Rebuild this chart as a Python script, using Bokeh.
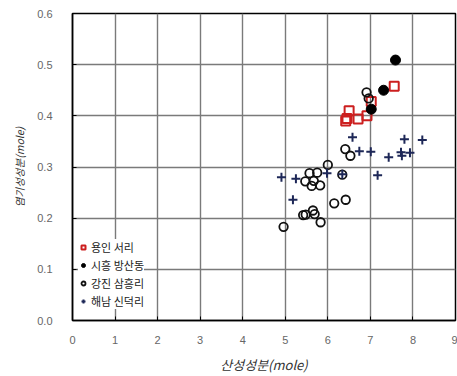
from bokeh.plotting import figure
from bokeh.models import Legend, LegendItem, PrintfTickFormatter, FixedTicker, Range1d
from bokeh.embed import file_html
from bokeh.resources import INLINE

# 용인 서리 (open red squares)
sq_x = [6.42, 6.45, 6.50, 6.71, 6.92, 7.02, 7.56]
sq_y = [0.390, 0.395, 0.410, 0.394, 0.400, 0.428, 0.458]
# 시흥 방산동 (filled black circles)
fc_x = [7.02, 7.31, 7.59]
fc_y = [0.413, 0.450, 0.509]
# 강진 삼흥리 (open circles)
oc_x = [6.91, 6.96, 6.41, 6.53, 6.00, 6.34, 5.57, 5.75, 5.47, 5.67, 5.62, 5.82,
        6.15, 6.42, 5.42, 5.48, 5.65, 5.69, 5.83, 4.96]
oc_y = [0.446, 0.434, 0.335, 0.322, 0.304, 0.285, 0.288, 0.289, 0.272, 0.273, 0.263, 0.264,
        0.229, 0.236, 0.206, 0.207, 0.215, 0.208, 0.192, 0.183]
# 해남 신덕리 (crosses)
cr_x = [6.58, 7.80, 8.22, 6.74, 7.01, 7.43, 7.72, 7.74, 7.93, 7.17, 4.91, 5.25, 5.98, 5.18, 6.34]
cr_y = [0.358, 0.354, 0.353, 0.331, 0.330, 0.319, 0.329, 0.322, 0.328, 0.284, 0.280, 0.277, 0.288, 0.236, 0.286]

names = ["용인 서리", "시흥 방산동", "강진 삼흥리", "해남 신덕리"]
x_ticks = [0, 1, 2, 3, 4, 5, 6, 7, 8, 9]
y_ticks = [0.0, 0.1, 0.2, 0.3, 0.4, 0.5, 0.6]

p = figure(width=457, height=376, output_backend="svg", toolbar_location=None,
           x_range=Range1d(0, 9), y_range=Range1d(0, 0.6),
           min_border_left=72, min_border_right=2, min_border_top=13, min_border_bottom=55)
p.outline_line_color = "black"
p.outline_line_width = 1.5

for ax in (p.xaxis[0], p.yaxis[0]):
    ax.major_tick_in = 4
    ax.major_tick_out = 0
    ax.minor_tick_line_color = None
    ax.axis_line_color = "black"
    ax.axis_line_width = 1.5
    ax.major_label_text_font = "Liberation Sans"
    ax.major_label_text_font_size = "11px"
    ax.major_label_text_color = "#666666"
    ax.axis_label_text_font = "Noto Sans CJK KR"
    ax.axis_label_text_font_style = "italic"
    ax.axis_label_text_color = "#333333"

p.xaxis.ticker = FixedTicker(ticks=x_ticks)
p.yaxis.ticker = FixedTicker(ticks=y_ticks)
p.yaxis.formatter = PrintfTickFormatter(format="%.1f")
p.xaxis.major_label_standoff = 15
p.yaxis.major_label_standoff = 20
p.xaxis.axis_label = "산성성분(mole)"
p.yaxis.axis_label = "염기성성분(mole)"
p.xaxis.axis_label_text_font_size = "13px"
p.yaxis.axis_label_text_font_size = "10.5px"
p.xaxis.axis_label_standoff = 8
p.yaxis.axis_label_standoff = 7

p.xgrid.grid_line_color = "#7a7a7a"
p.ygrid.grid_line_color = "#7a7a7a"
p.xgrid.grid_line_width = 1.4
p.ygrid.grid_line_width = 1.4

r1 = p.scatter(sq_x, sq_y, marker="square", size=9, fill_color="white", fill_alpha=0,
               line_color="#cc1f1f", line_width=2)
r2 = p.scatter(fc_x, fc_y, marker="circle", size=10, fill_color="black", line_color="black")
r3 = p.scatter(oc_x, oc_y, marker="circle", size=8.5, fill_color="white", fill_alpha=0,
               line_color="#111111", line_width=1.8)
r4 = p.scatter(cr_x, cr_y, marker="cross", size=9, line_color="#1d2757", line_width=2)

legend = Legend(items=[LegendItem(label=n, renderers=[r]) for n, r in zip(names, [r1, r2, r3, r4])],
                location=(6, 11), glyph_width=10, glyph_height=12, label_standoff=3,
                spacing=2, padding=4, background_fill_color="white", background_fill_alpha=1,
                border_line_color=None, label_text_font="Noto Sans CJK KR",
                label_text_font_size="11px", label_text_color="#222222")
p.add_layout(legend)

open("out.html", "w").write(file_html(p, INLINE))
